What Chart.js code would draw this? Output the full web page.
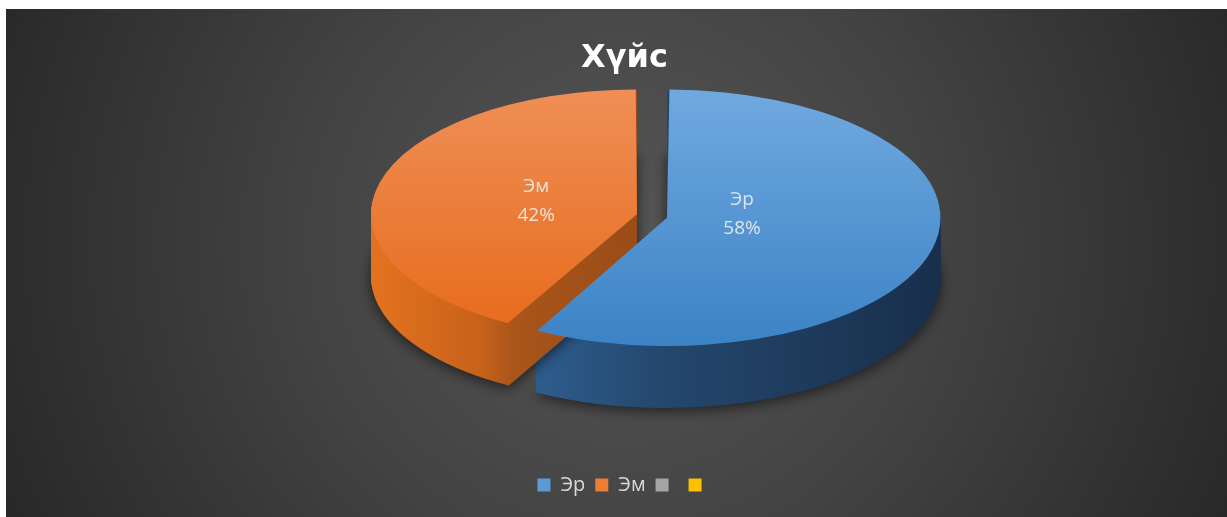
<!DOCTYPE html>
<html>
<head>
<meta charset="utf-8">
<script src="https://cdn.jsdelivr.net/npm/chart.js@4.4.0/dist/chart.umd.min.js"></script>
<style>
  html, body { margin: 0; padding: 0; background: #fff; }
  #wrap { width: 1227px; height: 517px; }
</style>
</head>
<body>
<div id="wrap"><canvas id="genderChart" width="1227" height="517"></canvas></div>
<script>
// Chart data
const categories = ['Эр', 'Эм', '', ''];
const shares = [58, 42, 0, 0];

// Colours (Office palette)
const legendColors = ['#5b9bd5', '#ed7d31', '#a5a5a5', '#ffc000'];
const topColors = [['#6fa8df', '#3d84c6'], ['#ef8e56', '#e76b1b'], ['#b5b5b5', '#959595'], ['#ffcd33', '#f0b400']];
const sideStops = [
    [[0, '#3672ab'], [0.5, '#24476d'], [1, '#19304d']],
    [[0, '#e2721f'], [0.2, '#c7611a'], [0.26, '#a9551b'], [0.5, '#9a4c17'], [1, '#8a4414']],
    [[0, '#8a8a8a'], [1, '#5a5a5a']],
    [[0, '#d9a200'], [1, '#a07700']]
];

// How the flat pie is squashed onto the page to look tilted
const view = { cx: 652, cy: 216, rx: 258, ry: 121, depth: 62 };
const baseRadius = 100;
const explode = 6;   // Chart.js v4 draws arcs with offset / 4

function chartCenter(chart) {
    const a = chart.chartArea;
    return [(a.left + a.right) / 2, (a.top + a.bottom) / 2];
}

function toScreen(chart, px, py, yScale = 1) {
    const [ox, oy] = chartCenter(chart);
    return [view.cx + (px - ox) * view.rx / baseRadius, view.cy + (py - oy) * view.ry * yScale / baseRadius];
}

function applyView(ctx, chart) {
    const [ox, oy] = chartCenter(chart);
    ctx.translate(view.cx, view.cy);
    ctx.scale(view.rx / baseRadius, view.ry / baseRadius);
    ctx.translate(-ox, -oy);
}

// same shift and radius growth the ArcElement applies for its offset
function arcGeometry(arc) {
    const p = arc.getProps(['x', 'y', 'startAngle', 'endAngle', 'outerRadius', 'circumference'], true);
    const off = (arc.options.offset || 0) / 4;
    const mid = (p.startAngle + p.endAngle) / 2;
    const fix = 1 - Math.sin(Math.min(Math.PI, p.circumference || 0));
    return {
        x: p.x + Math.cos(mid) * off,
        y: p.y + Math.sin(mid) * off,
        r: p.outerRadius + off * fix,
        start: p.startAngle,
        end: p.endAngle,
        mid: mid
    };
}

// Dark radial background with the white margin on top/left
const backgroundPlugin = {
    id: 'background',
    beforeDraw(chart) {
        const ctx = chart.ctx;
        ctx.save();
        ctx.fillStyle = '#ffffff';
        ctx.fillRect(0, 0, chart.width, chart.height);
        const g = ctx.createRadialGradient(620, 240, 0, 620, 240, 700);
        g.addColorStop(0, '#565656');
        g.addColorStop(0.45, '#434343');
        g.addColorStop(1, '#262626');
        ctx.fillStyle = g;
        ctx.fillRect(6, 9, chart.width - 6, chart.height - 9);
        ctx.restore();
    }
};

// Side walls, then tilt the canvas so the library draws the top faces squashed
const tiltPlugin = {
    id: 'tilt',
    beforeDatasetsDraw(chart) {
        const ctx = chart.ctx;
        const arcs = chart.getDatasetMeta(0).data;
        const base = ctx.getTransform();
        ctx.save();
        arcs.forEach((arc, i) => {
            if (!shares[i]) return;
            const a = arcGeometry(arc);
            const c = toScreen(chart, a.x, a.y);
            const g = ctx.createLinearGradient(c[0] - view.rx, 0, c[0] + view.rx, 0);
            sideStops[i].forEach(s => g.addColorStop(s[0], s[1]));
            for (let d = view.depth; d >= 1; d--) {
                ctx.setTransform(base);
                ctx.translate(0, d);
                applyView(ctx, chart);
                ctx.beginPath();
                ctx.moveTo(a.x, a.y);
                ctx.arc(a.x, a.y, a.r, a.start, a.end);
                ctx.closePath();
                ctx.setTransform(base);
                if (d === view.depth) {
                    ctx.shadowColor = 'rgba(0, 0, 0, 0.6)';
                    ctx.shadowBlur = 14;
                    ctx.shadowOffsetY = 3;
                } else {
                    ctx.shadowColor = 'transparent';
                    ctx.shadowBlur = 0;
                    ctx.shadowOffsetY = 0;
                }
                ctx.fillStyle = g;
                ctx.fill();
            }
        });
        ctx.restore();

        ctx.save();
        applyView(ctx, chart);
    },
    afterDatasetsDraw(chart) {
        const ctx = chart.ctx;
        ctx.restore();

        // data labels: name + percent, sitting nearer the tip in the tilted view
        const arcs = chart.getDatasetMeta(0).data;
        const total = shares.reduce((a, b) => a + b, 0);
        ctx.save();
        ctx.font = '19px "Open Sans"';
        ctx.fillStyle = 'rgba(240, 240, 240, 0.88)';
        ctx.textAlign = 'center';
        ctx.textBaseline = 'middle';
        arcs.forEach((arc, i) => {
            if (!shares[i]) return;
            const a = arcGeometry(arc);
            const theta = a.end - a.start;
            const dist = 0.8 * 4 * a.r * Math.sin(theta / 2) / (3 * theta);
            const s = toScreen(chart, a.x + Math.cos(a.mid) * dist, a.y + Math.sin(a.mid) * dist, 0.5);
            ctx.fillText(categories[i], s[0], s[1] - 22);
            ctx.fillText(Math.round(shares[i] / total * 100) + '%', s[0], s[1] + 7);
        });
        ctx.restore();
    }
};

const ctx = document.getElementById('genderChart').getContext('2d');
const genderChart = new Chart(ctx, {
    type: 'pie',
    data: {
        labels: categories,
        datasets: [{
            data: shares,
            radius: baseRadius,
            offset: explode * 4,
            borderWidth: 0,
            clip: false,
            backgroundColor: (context) => {
                const i = context.dataIndex;
                const chart = context.chart;
                if (!chart.chartArea) return legendColors[i];
                const oy = chartCenter(chart)[1];
                const g = chart.ctx.createLinearGradient(0, oy - baseRadius, 0, oy + baseRadius);
                g.addColorStop(0, topColors[i][0]);
                g.addColorStop(1, topColors[i][1]);
                return g;
            }
        }]
    },
    options: {
        responsive: false,
        animation: false,
        layout: { padding: { left: 22, bottom: 12 } },
        plugins: {
            title: {
                display: true,
                text: 'Хүйс',
                color: '#ffffff',
                font: { family: 'DejaVu Sans', size: 32, weight: 'bold' },
                padding: { top: 39, bottom: 10 }
            },
            legend: {
                position: 'bottom',
                labels: {
                    color: '#d9d9d9',
                    font: { family: 'Open Sans', size: 20 },
                    boxWidth: 13,
                    boxHeight: 13,
                    padding: 10,
                    generateLabels: () => categories.map((c, i) => ({
                        text: c,
                        fillStyle: legendColors[i],
                        strokeStyle: legendColors[i],
                        lineWidth: 0,
                        hidden: false,
                        index: i,
                        fontColor: '#d9d9d9'
                    }))
                }
            },
            tooltip: { enabled: false }
        }
    },
    plugins: [backgroundPlugin, tiltPlugin]
});
</script>
</body>
</html>
